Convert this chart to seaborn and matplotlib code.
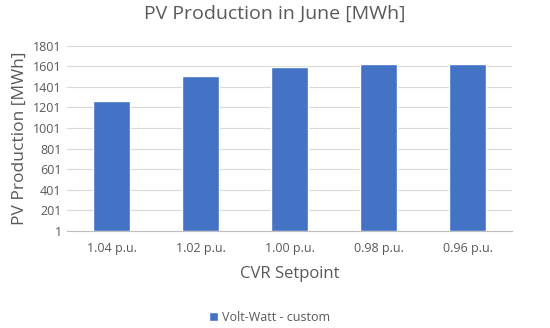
import matplotlib
matplotlib.use("Agg")
import matplotlib.pyplot as plt
import seaborn as sns
import pandas as pd

categories = ["1.04 p.u.", "1.02 p.u.", "1.00 p.u.", "0.98 p.u.", "0.96 p.u."]
values = [1265, 1510, 1595, 1620, 1626]
series_name = "Volt-Watt - custom"
yticks = [1, 201, 401, 601, 801, 1001, 1201, 1401, 1601, 1801]

sns.set_theme(style="white")
plt.rcParams['font.family'] = ['Open Sans', 'DejaVu Sans']

df = pd.DataFrame({"CVR Setpoint": categories, "PV": values, "Series": series_name})

fig = plt.figure(figsize=(5.5, 3.28), dpi=100)
ax = fig.add_axes([0.122, 0.296, 0.809, 0.565])
sns.barplot(data=df, x="CVR Setpoint", y="PV", hue="Series", palette=["#4472C4"],
            saturation=1, width=0.41, ax=ax, legend=True, zorder=3)
ax.set_ylim(1, 1801)
ax.set_yticks(yticks)
ax.set_yticklabels([str(t) for t in yticks], fontsize=9, color="#595959")
ax.tick_params(axis="x", labelsize=9, labelcolor="#595959", length=0, pad=8)
ax.tick_params(axis="y", length=0, pad=4)
ax.grid(axis="y", color="#D9D9D9", linewidth=0.8, zorder=0)
for s in ["top", "right", "left"]:
    ax.spines[s].set_visible(False)
ax.spines["bottom"].set_color("#BFBFBF")
ax.spines["bottom"].set_linewidth(0.8)
ax.set_xlabel("CVR Setpoint", fontsize=12, color="#595959", labelpad=8)
ax.set_ylabel("PV Production [MWh]", fontsize=12.5, color="#595959", labelpad=4)
fig.suptitle("PV Production in June [MWh]", fontsize=14, color="#595959", y=0.985)
leg = ax.legend(loc="upper center", bbox_to_anchor=(0.5 - 0.045, -0.37), frameon=False,
                fontsize=9, handlelength=0.7, handleheight=0.7, handletextpad=0.3)
for t in leg.get_texts():
    t.set_color("#595959")
fig.savefig("out.png", dpi=100)
